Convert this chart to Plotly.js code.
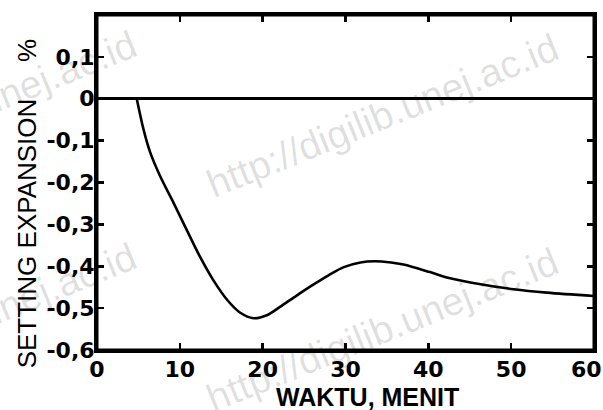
<!DOCTYPE html>
<html>
<head>
<meta charset="utf-8">
<script src="https://cdn.plot.ly/plotly-3.0.1.min.js"></script>
<style>html,body{margin:0;padding:0;background:#fff;overflow:hidden;}#chart{width:603px;height:410px;}</style>
</head>
<body>
<div id="chart"></div>
<script>
// Data
const waktu = [4.8, 5.6, 6.4, 7.6, 9.2, 10.8, 12.4, 14.0, 15.7, 17.3, 18.9, 20.5, 22.1, 24.1, 26.1, 28.0, 29.8, 31.8, 33.5, 35.5, 37.0, 40.2, 42.5, 46.3, 50.3, 54.3, 60];
const expansion = [0, -0.072, -0.127, -0.184, -0.247, -0.312, -0.376, -0.432, -0.48, -0.511, -0.524, -0.517, -0.497, -0.470, -0.444, -0.421, -0.402, -0.391, -0.388, -0.391, -0.396, -0.414, -0.428, -0.443, -0.455, -0.463, -0.471];
const yTickVals = [0.1, 0, -0.1, -0.2, -0.3, -0.4, -0.5, -0.6];
const yTickText = ['0,1', '0', '-0,1', '-0,2', '-0,3', '-0,4', '-0,5', '-0,6'];
const xTickVals = [0, 10, 20, 30, 40, 50, 60];
const xTickText = ['0', '10', '20', '30', '40', '50', '60\u00a0\u00a0'];
const xTitle = 'WAKTU, MENIT';
const yTitle = 'SETTING EXPANSION';
const yUnit = '%';
const watermark = 'http://digilib.unej.ac.id';

const FAM = 'Liberation Sans, Arial, sans-serif';
const tickFont = {family: 'DejaVu Sans, sans-serif', size: 22, color: '#000', weight: 'bold'};
const wm = {family: FAM, size: 39, color: 'rgba(0,0,0,0.13)'};

const trace = {
  x: waktu, y: expansion,
  mode: 'lines', line: {color: '#000', width: 2.6, shape: 'spline', smoothing: 0.9},
  hoverinfo: 'skip', showlegend: false
};

function wmAnn(x, y) {
  return {xref: 'paper', yref: 'paper', x: x, y: y, xanchor: 'center', yanchor: 'middle',
          text: watermark, showarrow: false, textangle: -22, font: wm};
}

const layout = {
  width: 603, height: 410,
  margin: {l: 97, r: 9, t: 15, b: 60},
  paper_bgcolor: '#fff', plot_bgcolor: '#fff',
  xaxis: {
    range: [0, 60], tickvals: xTickVals, ticktext: xTickText,
    ticks: 'inside', ticklen: 7, tickwidth: 2.5, tickcolor: '#000',
    showline: true, linewidth: 3, linecolor: '#000', mirror: 'allticks',
    showgrid: false, zeroline: false, tickfont: tickFont,
    ticklabeloverflow: 'allow', ticklabelstandoff: -2
  },
  yaxis: {
    range: [-0.6, 0.2], tickvals: yTickVals, ticktext: yTickText,
    ticks: 'inside', ticklen: 7, tickwidth: 2.5, tickcolor: '#000',
    showline: true, linewidth: 3, linecolor: '#000', mirror: 'allticks',
    showgrid: false, zeroline: true, zerolinewidth: 2.8, zerolinecolor: '#000',
    tickfont: tickFont, ticklabeloverflow: 'allow', ticklabelstandoff: -5
  },
  shapes: [
    {type: 'rect', xref: 'paper', yref: 'paper', x0: 0, x1: 1, y0: 0, y1: 1, line: {color: '#000', width: 3}}
  ],
  annotations: [
    wmAnn(0.575, 0.70), wmAnn(0.575, 0.06), wmAnn(-0.274, 0.71), wmAnn(-0.274, 0.075),
    {xref: 'paper', yref: 'paper', x: 0.545, y: -0.14, xanchor: 'center', yanchor: 'middle', text: xTitle, showarrow: false,
     font: {family: FAM, size: 25, color: '#000', weight: 'bold'}},
    {xref: 'paper', yref: 'paper', x: -0.141, y: 0.348, xanchor: 'center', yanchor: 'middle', text: yTitle, showarrow: false, textangle: -90,
     font: {family: FAM, size: 26, color: '#000'}},
    {xref: 'paper', yref: 'paper', x: -0.141, y: 0.895, xanchor: 'center', yanchor: 'middle', text: yUnit, showarrow: false, textangle: -90,
     font: {family: FAM, size: 26, color: '#000'}}
  ]
};

Plotly.newPlot('chart', [trace], layout, {displayModeBar: false, staticPlot: true});
</script>
</body>
</html>
